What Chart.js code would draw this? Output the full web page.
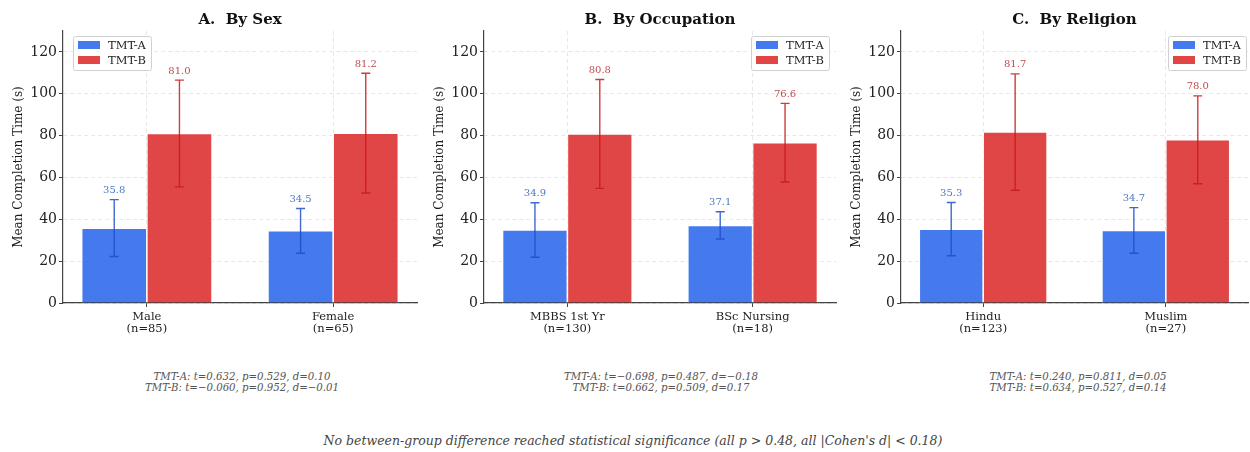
<!DOCTYPE html>
<html>
<head>
<meta charset="utf-8">
<script src="https://cdn.jsdelivr.net/npm/chart.js@4/dist/chart.umd.min.js"></script>
<style>
  body { margin: 0; background: #fff; }
  #wrap { position: relative; width: 1250px; height: 452px; overflow: hidden; background: #fff; }
  .panel { position: absolute; top: 0; height: 340px; }
  .stats { position: absolute; top: 371px; width: 400px; text-align: center;
           font: italic 10.2px 'DejaVu Serif', serif; color: #555; line-height: 11px; }
  #footer { position: absolute; top: 433px; left: 0; width: 1266px; text-align: center;
            font: italic 12.5px 'DejaVu Serif', serif; color: #444; }
</style>
</head>
<body>
<div id="wrap">
  <div class="panel" style="left:0;width:425px"><canvas id="sexChart"></canvas></div>
  <div class="panel" style="left:421px;width:420px"><canvas id="occChart"></canvas></div>
  <div class="panel" style="left:838px;width:412px"><canvas id="relChart"></canvas></div>
  <div class="stats" id="sexStats" style="left:42px"></div>
  <div class="stats" id="occStats" style="left:461px"></div>
  <div class="stats" id="relStats" style="left:878px"></div>
  <div id="footer"></div>
</div>
<script>
const seriesNames = ['TMT-A', 'TMT-B'];
const yMax = 130;
const yTickMax = 120;

const sexLabels = [['Male', '(n=85)'], ['Female', '(n=65)']];
const sexTmtA = [35.8, 34.5];
const sexTmtASd = [13.6, 10.7];
const sexTmtB = [81.0, 81.2];
const sexTmtBSd = [25.5, 28.6];
const sexStats = ['TMT-A: t=0.632, p=0.529, d=0.10', 'TMT-B: t=\u22120.060, p=0.952, d=\u22120.01'];

const occLabels = [['MBBS 1st Yr', '(n=130)'], ['BSc Nursing', '(n=18)']];
const occTmtA = [34.9, 37.1];
const occTmtASd = [13.0, 6.5];
const occTmtB = [80.8, 76.6];
const occTmtBSd = [26.0, 18.8];
const occStats = ['TMT-A: t=\u22120.698, p=0.487, d=\u22120.18', 'TMT-B: t=0.662, p=0.509, d=0.17'];

const relLabels = [['Hindu', '(n=123)'], ['Muslim', '(n=27)']];
const relTmtA = [35.3, 34.7];
const relTmtASd = [12.7, 10.9];
const relTmtB = [81.7, 78.0];
const relTmtBSd = [27.8, 21.0];
const relStats = ['TMT-A: t=0.240, p=0.811, d=0.05', 'TMT-B: t=0.634, p=0.527, d=0.14'];

const footerText = "No between-group difference reached statistical significance (all p > 0.48, all |Cohen's d| < 0.18)";

const FONT = "'DejaVu Serif', serif";

// error bars + value labels on top of each bar
const errorBars = {
    id: 'errorBars',
    afterDatasetsDraw(chart) {
        const ctx = chart.ctx;
        const yScale = chart.scales.y;
        chart.data.datasets.forEach((ds, i) => {
            const meta = chart.getDatasetMeta(i);
            meta.data.forEach((bar, j) => {
                const v = ds.data[j];
                const sd = ds.errors[j];
                const top = yScale.getPixelForValue(v + sd);
                const bot = yScale.getPixelForValue(v - sd);
                ctx.save();
                ctx.strokeStyle = ds.errColor;
                ctx.lineWidth = 1.4;
                ctx.beginPath();
                ctx.moveTo(bar.x, top); ctx.lineTo(bar.x, bot);
                ctx.moveTo(bar.x - 4.5, top); ctx.lineTo(bar.x + 4.5, top);
                ctx.moveTo(bar.x - 4.5, bot); ctx.lineTo(bar.x + 4.5, bot);
                ctx.stroke();
                ctx.fillStyle = ds.labelColor;
                ctx.font = '10px ' + FONT;
                ctx.textAlign = 'center';
                ctx.textBaseline = 'bottom';
                ctx.fillText(v.toFixed(1), bar.x, top - 4);
                ctx.restore();
            });
        });
    }
};

// legend drawn inside the plot area
const innerLegend = {
    id: 'innerLegend',
    afterDraw(chart, args, opts) {
        const ctx = chart.ctx;
        const area = chart.chartArea;
        const w = 78, h = 34;
        const x = opts.side === 'left' ? area.left + 10 : area.right - w - opts.inset;
        const y = area.top + 5;
        ctx.save();
        ctx.fillStyle = 'rgba(255,255,255,0.9)';
        ctx.strokeStyle = '#d0d0d0';
        ctx.lineWidth = 1;
        ctx.beginPath();
        ctx.roundRect(x + 0.5, y + 0.5, w, h, 2);
        ctx.fill();
        ctx.stroke();
        chart.data.datasets.forEach((ds, i) => {
            const ry = y + 9 + i * 15;
            ctx.fillStyle = ds.backgroundColor;
            ctx.fillRect(x + 5, ry - 4, 22, 8);
            ctx.fillStyle = '#222';
            ctx.font = '11.5px ' + FONT;
            ctx.textAlign = 'left';
            ctx.textBaseline = 'middle';
            ctx.fillText(ds.label, x + 35, ry + 1);
        });
        ctx.restore();
    }
};

function makePanel(canvasId, title, labels, aVals, aSd, bVals, bSd, legendSide, legendInset, padRight) {
    const ctx = document.getElementById(canvasId).getContext('2d');
    new Chart(ctx, {
        type: 'bar',
        data: {
            labels: labels,
            datasets: [
                {
                    label: seriesNames[0],
                    data: aVals,
                    errors: aSd,
                    backgroundColor: 'rgba(37,99,235,0.85)',
                    borderColor: '#ffffff',
                    borderWidth: 0.8,
                    errColor: 'rgba(30,78,200,0.85)',
                    labelColor: '#4d79c4'
                },
                {
                    label: seriesNames[1],
                    data: bVals,
                    errors: bSd,
                    backgroundColor: 'rgba(220,38,38,0.85)',
                    borderColor: '#ffffff',
                    borderWidth: 0.8,
                    errColor: 'rgba(200,25,25,0.85)',
                    labelColor: '#c24a4d'
                }
            ]
        },
        options: {
            responsive: true,
            maintainAspectRatio: false,
            animation: false,
            categoryPercentage: 0.7,
            barPercentage: 1.0,
            layout: { padding: { top: 7, right: padRight, bottom: 0, left: 0 } },
            plugins: {
                legend: { display: false },
                tooltip: { enabled: false },
                title: {
                    display: true,
                    text: title,
                    fullSize: false,
                    color: '#111',
                    font: { family: FONT, size: 15, weight: 'bold' },
                    padding: { top: 4, bottom: 2 }
                },
                innerLegend: { side: legendSide, inset: legendInset }
            },
            scales: {
                x: {
                    offset: true,
                    grid: {
                        offset: false,
                        color: 'rgba(0,0,0,0.09)',
                        tickColor: '#444',
                        tickLength: 4
                    },
                    border: { color: '#444', width: 1.2, dash: [4, 3] },
                    ticks: { color: '#222', font: { family: FONT, size: 11.5, lineHeight: 1.05 }, padding: 4 },
                    afterBuildTicks: s => { s._startValue = -0.45; s._valueRange = 1.9; },
                    afterFit: s => { s.height = 37; }
                },
                y: {
                    min: 0,
                    max: yMax,
                    ticks: { stepSize: 20, color: '#222', font: { family: FONT, size: 14 }, padding: 2 },
                    afterBuildTicks: s => { s.ticks = s.ticks.filter(t => t.value <= yTickMax); },
                    grid: {
                        color: 'rgba(0,0,0,0.09)',
                        tickColor: '#444',
                        tickLength: 4
                    },
                    border: { color: '#444', width: 1.2, dash: [4, 3] },
                    title: {
                        display: true,
                        text: 'Mean Completion Time (s)',
                        color: '#1a1a1a',
                        font: { family: FONT, size: 12 },
                        padding: { top: 12, bottom: 0 }
                    },
                    afterFit: s => { s.width = 63; }
                }
            }
        },
        plugins: [errorBars, innerLegend]
    });
}

function fillStats(id, lines) {
    document.getElementById(id).innerHTML = lines.join('<br>');
}

makePanel('sexChart', 'A.  By Sex', sexLabels, sexTmtA, sexTmtASd, sexTmtB, sexTmtBSd, 'left', 0, 8);
makePanel('occChart', 'B.  By Occupation', occLabels, occTmtA, occTmtASd, occTmtB, occTmtBSd, 'right', 7, 5);
makePanel('relChart', 'C.  By Religion', relLabels, relTmtA, relTmtASd, relTmtB, relTmtBSd, 'right', 2, 2);

fillStats('sexStats', sexStats);
fillStats('occStats', occStats);
fillStats('relStats', relStats);
document.getElementById('footer').textContent = footerText;
</script>
</body>
</html>
